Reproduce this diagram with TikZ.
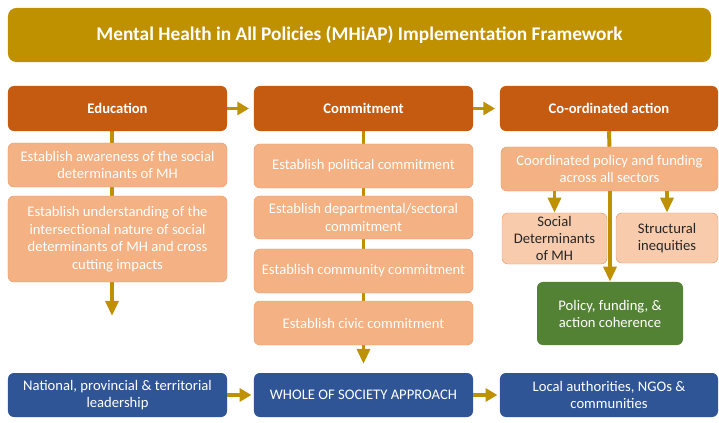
\documentclass[tikz,border=0pt]{standalone}
\usepackage{fontspec}
\setmainfont{Carlito}
\usetikzlibrary{positioning, arrows.meta, backgrounds}
\definecolor{gold}{HTML}{BF9000}
\definecolor{rust}{HTML}{C55A11}
\definecolor{peach}{HTML}{F4B183}
\definecolor{peachline}{HTML}{E9A070}
\definecolor{pale}{HTML}{F8CBAD}
\definecolor{leaf}{HTML}{548235}
\definecolor{navy}{HTML}{2F5597}

\begin{document}
\begin{tikzpicture}[x=0.03cm, y=-0.03cm,
  box/.style={rounded corners=5pt, align=center, inner sep=2pt, text=white, font=\fontsize{12.5}{15}\selectfont},
  head/.style={box, fill=rust, minimum width=6.57cm, minimum height=1.35cm, font=\fontsize{12.5}{15}\selectfont\bfseries},
  step box/.style={box, fill=peach, draw=peachline, minimum width=6.57cm, minimum height=1.32cm},
  sub/.style={box, fill=pale, draw=peachline, text=black!85, font=\fontsize{12.5}{14.5}\selectfont},
  lead/.style={box, fill=navy, minimum width=6.57cm, minimum height=1.32cm},
  flow/.style={draw=gold, line width=3.4pt, -{Triangle[width=11pt,length=10pt]}},
  drop/.style={draw=gold, line width=3.4pt, -{Triangle[width=11pt,length=13pt]}},
  spine/.style={draw=gold, line width=3.4pt}]
  \useasboundingbox (0,0) rectangle (719,423);

  \node[box, fill=gold, minimum width=21.09cm, minimum height=1.62cm, rounded corners=7pt,
        font=\fontsize{16.5}{18}\selectfont\bfseries] (title) at (359.5,35)
        {Mental Health in All Policies (MHiAP) Implementation Framework};

  % three headers
  \node[head] (edu) at (117.5,108.5) {Education};
  \node[head] (com) at (363.5,108.5) {Commitment};
  \node[head, minimum width=6.54cm] (coa) at (609,108.5) {Co-ordinated action};

  % education
  \node[step box] (e1) at (117.5,165) {Establish awareness of the social\\determinants of MH};
  \node[step box, minimum height=2.58cm] (e2) at (117.5,239)
        {Establish understanding of the\\intersectional nature of social\\determinants of MH and cross\\cutting impacts};
  \coordinate (eduend) at (112,316);

  % commitment
  \node[step box] (c1) at (363.5,166) {Establish political commitment};
  \node[step box, minimum height=1.29cm] (c2) at (363.5,217.5) {Establish departmental/sectoral\\commitment};
  \node[step box] (c3) at (363.5,271) {Establish community commitment};
  \node[step box] (c4) at (363.5,323) {Establish civic commitment};
  \coordinate (comend) at (363.5,364);

  % co-ordinated action
  \node[step box, minimum width=6.51cm] (a1) at (609.5,169) {Coordinated policy and funding\\across all sectors};
  \node[sub, minimum width=3.15cm, minimum height=1.53cm] (sd) at (554.5,238.5) {Social\\Determinants\\of MH};
  \node[sub, minimum width=3.06cm, minimum height=1.5cm] (si) at (667,238) {Structural\\inequities};
  \node[box, fill=leaf, minimum width=4.38cm, minimum height=1.89cm, font=\fontsize{12.5}{14.5}\selectfont] (gr) at (610,313.5)
        {Policy, funding, \&\\action coherence};

  % bottom row
  \node[lead] (b1) at (117.5,395) {National, provincial \& territorial\\leadership};
  \node[lead] (b2) at (363.5,395) {WHOLE OF SOCIETY APPROACH};
  \node[lead, minimum width=6.54cm] (b3) at (609,395) {Local authorities, NGOs \&\\communities};

  \begin{scope}[on background layer]
    \draw[drop] (edu.south -| eduend) -- (eduend);
    \draw[drop] (com.south) -- (comend);
    \draw[spine] (coa.south) -- (a1.north);
  \end{scope}

  \draw[flow, shorten >=4pt] (edu) -- (com);
  \draw[flow, shorten >=4pt] (com) -- (coa);
  \draw[drop] (a1.south -| sd.north) -- (sd.north);
  \draw[drop] (a1.south -| si.north) -- (si.north);
  \draw[drop] (a1.south -| gr.north) -- (gr.north);
  \draw[flow, shorten >=2pt] (b1) -- (b2);
  \draw[flow, shorten >=2pt] (b2) -- (b3);
\end{tikzpicture}
\end{document}
